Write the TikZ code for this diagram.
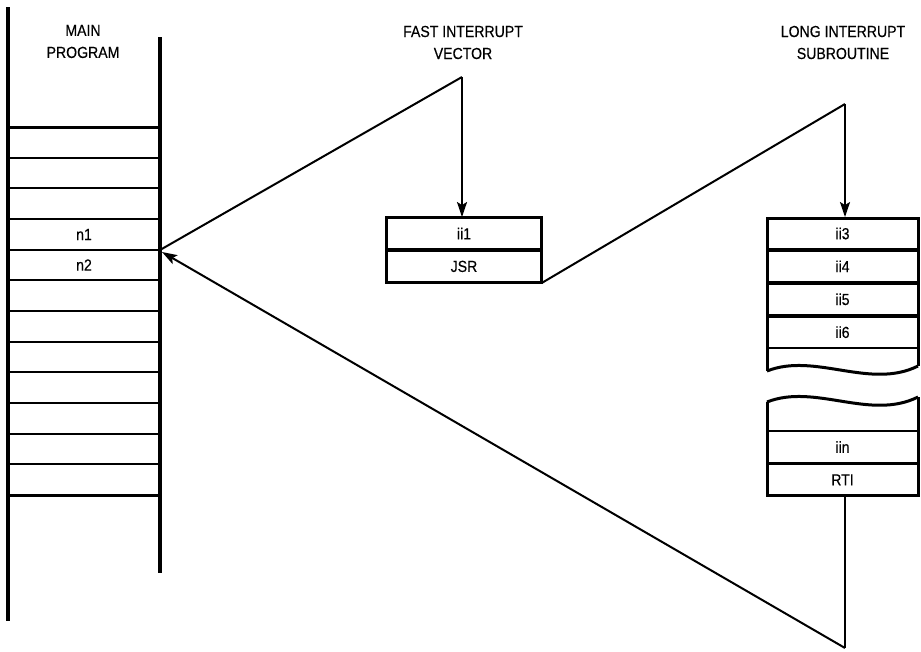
\documentclass[tikz,border=0pt]{standalone}
\usepackage{fontspec}
\setmainfont[FakeStretch=0.88,FakeBold=0.4]{Liberation Sans}
\usetikzlibrary{arrows.meta}
\begin{document}
\begin{tikzpicture}[x=1pt,y=-1pt,
  lbl/.style={font=\fontsize{16}{22}\selectfont, align=center},
  celltxt/.style={font=\fontsize{16}{18}\selectfont, inner sep=0pt},
  cellbox/.style={draw, line width=1.9pt, minimum width=151pt, minimum height=31pt, inner sep=0pt, font=\fontsize{16}{18}\selectfont},
  colline/.style={line width=3.2pt},
  rowline/.style={line width=2pt},
  outline/.style={line width=3pt},
  conn/.style={line width=2pt, line join=miter},
  arr/.style={conn, -{Stealth[length=15pt,width=10pt,inset=3pt]}}]
\useasboundingbox (0,0) rectangle (921,651);

% labels
\node[lbl] (mainlbl) at (83,41.5) {MAIN\\PROGRAM};
\node[lbl] (fastlbl) at (463,42.5) {FAST INTERRUPT\\VECTOR};
\node[lbl] (longlbl) at (843,42.5) {LONG INTERRUPT\\SUBROUTINE};

% main program column
\draw[colline] (8,7) -- (8,621);
\draw[colline] (160,37) -- (160,573);
\foreach \k in {0,...,12}{
  \draw[rowline] (8,{127+\k*30.67}) -- (160,{127+\k*30.67});
}
\draw[outline] (8,127) -- (160,127);
\draw[outline] (8,495) -- (160,495);
\node[celltxt] (n1) at (84,234.5) {n1};
\node[celltxt] (n2) at (84,265) {n2};
\coordinate (tgt) at (160,250);
\coordinate (tgtb) at (162,252);

% fast interrupt vector box
\node[cellbox, minimum width=154pt] (ii1) at (464,233.5) {ii1};
\node[cellbox, minimum width=154pt, anchor=north] (jsr) at (ii1.south) {JSR};
\draw[outline] (ii1.north west) rectangle (jsr.south east);

% long interrupt subroutine
\node[cellbox] (ii3) at (842.5,233.5) {ii3};
\node[cellbox, anchor=north] (ii4) at (ii3.south) {ii4};
\node[cellbox, anchor=north] (ii5) at (ii4.south) {ii5};
\node[cellbox, anchor=north] (ii6) at (ii5.south) {ii6};
\draw[outline] (767,371) -- (767,218) -- (918,218) -- (918,366);
\draw[outline] (767,371) .. controls (815,352) and (870,390) .. (918,366);

\node[cellbox] (iin) at (842.5,447) {iin};
\node[cellbox, anchor=north] (rti) at (iin.south) {RTI};
\draw[rowline] (767,431) -- (918,431);
\draw[outline] (767,402) -- (767,495) -- (918,495) -- (918,397);
\draw[outline] (767,402) .. controls (815,383) and (870,421) .. (918,397);

% connectors
\coordinate (fvtop) at (462,77);
\coordinate (lvtop) at (845,104);
\coordinate (apex) at (845,648);
\draw[conn] (tgt) -- (fvtop);
\draw[arr] (fvtop) -- (fvtop |- ii1.north);
\draw[conn] (jsr.south east) -- (lvtop);
\draw[arr] (lvtop) -- (lvtop |- ii3.north);
\draw[conn] (apex |- rti.south) -- (apex);
\draw[arr] (apex) -- (tgtb);
\end{tikzpicture}
\end{document}
